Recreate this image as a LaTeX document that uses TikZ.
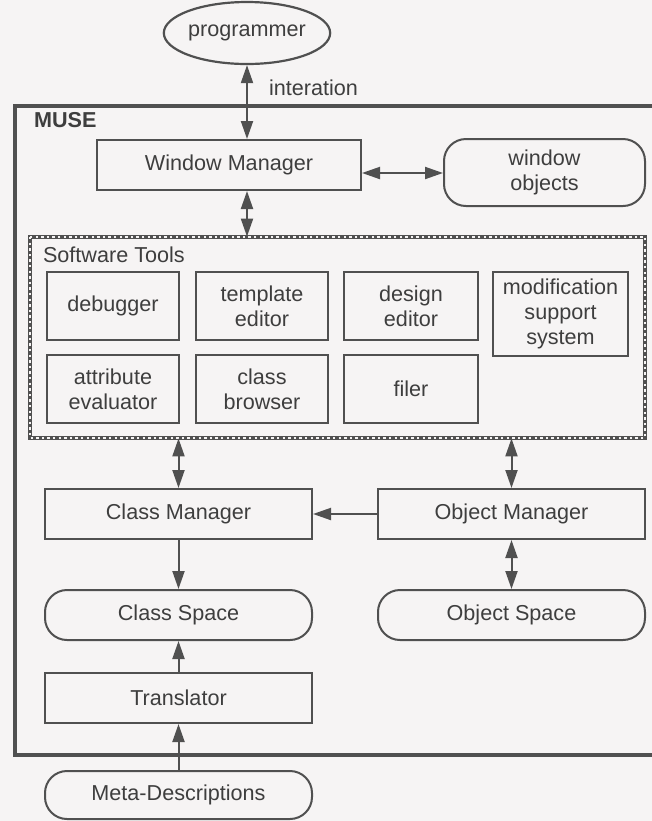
\documentclass[tikz,border=0pt]{standalone}
\usepackage{fontspec}
\setmainfont{Liberation Sans}
\usetikzlibrary{shapes.geometric,arrows.meta}
\definecolor{paper}{HTML}{F6F4F4}
\definecolor{ink}{HTML}{505050}
\definecolor{txt}{HTML}{3E3E3E}
\begin{document}
\begin{tikzpicture}[x=0.5pt,y=-0.5pt,
  font=\fontsize{10.8}{12.6}\selectfont,
  every node/.style={text=txt},
  box/.style={draw=ink, line width=1pt, inner sep=0pt, align=center,
    minimum width=133.5pt, minimum height=25pt},
  tool/.style={draw=ink, line width=1pt, inner sep=0pt, align=center,
    minimum width=66pt, minimum height=34pt},
  pill/.style={box, rounded corners=11pt},
  link/.style={draw=ink, line width=1pt, -{Triangle[length=9pt,width=6pt]}},
  both/.style={link, {Triangle[length=9pt,width=6pt]}-{Triangle[length=9pt,width=6pt]}}]
\useasboundingbox (0,0) rectangle (652,821);
\fill[paper] (0,0) rectangle (652,821);

% MUSE system frame (runs past the right edge)
\draw[ink, line width=1.6pt] (700,106) -- (15,106) -- (15,755) -- (700,755);
\node[anchor=west, font=\fontsize{10.8}{12.6}\selectfont\bfseries] (muse) at (27,120) {MUSE};

% user
\node[draw=ink, line width=1.1pt, ellipse, minimum width=83pt, minimum height=31pt, inner sep=0pt] (prog) at (247,33) {programmer};
\node[anchor=west] (interlbl) at (262,88) {interation};

% window layer
\node[box, minimum width=132pt, minimum height=25pt] (wm) at (229,165) {Window Manager};
\node[pill, minimum width=100.5pt, minimum height=33.5pt] (wo) at (544.5,172.5) {window\\objects};

% software tools group with hatched border
\coordinate (stnw) at (30,237);
\coordinate (stse) at (645,438);
\draw[ink, line width=2.2pt] (stnw) rectangle (stse);
\draw[paper, line width=0.8pt, dash pattern=on 1.2pt off 1.6pt] (stnw) rectangle (stse);
\node[inner sep=0pt, minimum width=307.5pt, minimum height=100.5pt] (st) at (337.5,337.5) {};
\node[anchor=west] (stlbl) at (36,255) {Software Tools};

\node[tool] (dbg) at (113,306) {debugger};
\node[tool] (tpl) at (262,306) {template\\editor};
\node[tool, minimum width=67pt] (des) at (411,306) {design\\editor};
\node[tool, minimum width=67.5pt, minimum height=42pt] (mod) at (560.5,314) {modification\\support\\system};
\node[tool] (att) at (113,389) {attribute\\evaluator};
\node[tool] (brw) at (262,389) {class\\browser};
\node[tool, minimum width=67pt] (fil) at (411,389) {filer};

% managers and spaces
\node[box] (cm) at (178.5,514) {Class Manager};
\node[box] (om) at (511.5,514) {Object Manager};
\node[pill] (cs) at (178.5,615) {Class Space};
\node[pill] (os) at (511.5,615) {Object Space};
\node[box] (tr) at (178.5,698) {Translator};
\node[pill, minimum height=24pt] (meta) at (178.5,795) {Meta-Descriptions};

% connectors
\draw[both] (prog.south) -- (prog.south |- wm.north);
\draw[both] (wm.south -| prog.south) -- (st.north -| prog.south);
\draw[both] (wm.east |- 0,173) -- (wo.west |- 0,173);
\draw[both] (st.south -| cm.north) -- (cm.north);
\draw[both] (st.south -| om.north) -- (om.north);
\draw[link] (om.west) -- (cm.east);
\draw[link] (cm.south) -- (cs.north);
\draw[both] (om.south) -- (os.north);
\draw[link] (tr.north) -- (cs.south);
\draw[link] (meta.north) -- (tr.south);
\end{tikzpicture}
\end{document}
